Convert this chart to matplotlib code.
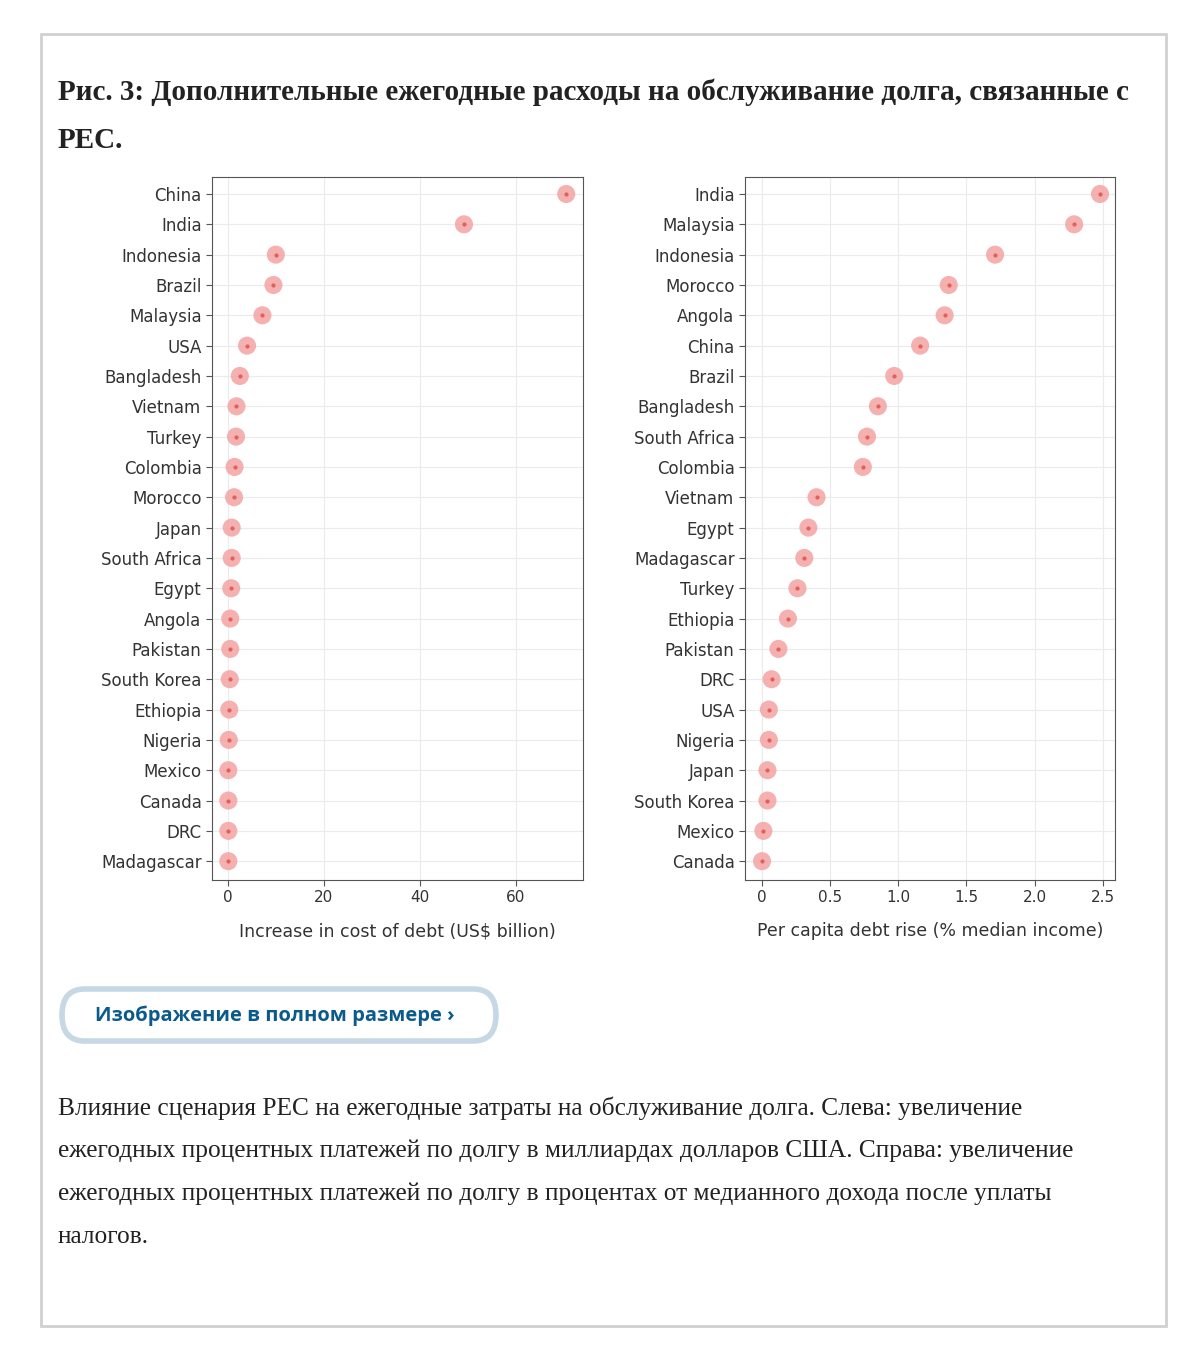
import matplotlib
matplotlib.use("Agg")
import matplotlib.pyplot as plt
from matplotlib.patches import FancyBboxPatch, Rectangle

left_countries = ["China","India","Indonesia","Brazil","Malaysia","USA","Bangladesh","Vietnam","Turkey","Colombia","Morocco","Japan","South Africa","Egypt","Angola","Pakistan","South Korea","Ethiopia","Nigeria","Mexico","Canada","DRC","Madagascar"]
left_values = [70.5,49.2,10.0,9.5,7.2,4.0,2.5,1.8,1.7,1.4,1.3,0.8,0.8,0.7,0.5,0.5,0.4,0.3,0.2,0.1,0.1,0.1,0.1]
right_countries = ["India","Malaysia","Indonesia","Morocco","Angola","China","Brazil","Bangladesh","South Africa","Colombia","Vietnam","Egypt","Madagascar","Turkey","Ethiopia","Pakistan","DRC","USA","Nigeria","Japan","South Korea","Mexico","Canada"]
right_values = [2.48,2.29,1.71,1.37,1.34,1.16,0.97,0.85,0.77,0.74,0.40,0.34,0.31,0.26,0.19,0.12,0.07,0.05,0.05,0.04,0.04,0.01,0.0]
left_ticks = [0,20,40,60]
right_ticks = [0,0.5,1.0,1.5,2.0,2.5]
right_ticklabels = ["0","0.5","1.0","1.5","2.0","2.5"]

W, H = 1194, 1368
fig = plt.figure(figsize=(W/100, H/100), dpi=100)
fig.patches.append(Rectangle((41/W, 1-1326/H), (1166-41)/W, (1326-34)/H, transform=fig.transFigure,
                             fill=False, edgecolor="#d0d0d0", linewidth=2))
serif = "Liberation Serif"
fig.text(58/W, 1-92/H, "Рис. 3: Дополнительные ежегодные расходы на обслуживание долга, связанные с",
         fontsize=21, fontweight="bold", family=serif, va="center", color="#222")
fig.text(58/W, 1-140/H, "PEC.", fontsize=21, fontweight="bold", family=serif, va="center", color="#222")

def panel(x0, x1, cats, vals, xlim, ticks, ticklabels, xlabel):
    ax = fig.add_axes([x0/W, 1-880/H, (x1-x0)/W, (880-177)/H])
    n = len(cats)
    y = list(range(n))
    ax.scatter(vals, y, s=170, color="#f4a3a3", alpha=0.85, edgecolors="none", zorder=3)
    ax.scatter(vals, y, s=4, color="#e06060", zorder=4)
    ax.set_yticks(y)
    ax.set_yticklabels(cats, fontsize=12, color="#333")
    ax.set_ylim(n-1+0.62, -0.56)
    ax.set_xlim(*xlim)
    ax.set_xticks(ticks)
    ax.set_xticklabels(ticklabels, fontsize=11, color="#333")
    ax.set_xlabel(xlabel, fontsize=12.5, color="#333", labelpad=12)
    ax.grid(True, color="#ebebeb", linewidth=0.8, zorder=0)
    ax.set_axisbelow(True)
    for s in ax.spines.values():
        s.set_color("#555"); s.set_linewidth(0.8)
    ax.tick_params(colors="#555", length=4, labelcolor="#333")
    return ax

panel(212, 583, left_countries, left_values, (-3.3, 74), left_ticks, [str(t) for t in left_ticks],
      "Increase in cost of debt (US$ billion)")
panel(745, 1115, right_countries, right_values, (-0.125, 2.59), right_ticks, right_ticklabels,
      "Per capita debt rise (% median income)")

fig.patches.append(FancyBboxPatch((62/W, 1-1041/H), (496-62)/W, (1041-989)/H,
                   boxstyle="round,pad=0,rounding_size=0.019", transform=fig.transFigure,
                   facecolor="white", edgecolor="#c5d8e3", linewidth=4))
fig.text(95/W, 1-1016/H, "Изображение в полном размере ›", fontsize=14.5, fontweight="bold",
         color="#0a5a8c", va="center", family="Open Sans")

cap = ["Влияние сценария PEC на ежегодные затраты на обслуживание долга. Слева: увеличение",
       "ежегодных процентных платежей по долгу в миллиардах долларов США. Справа: увеличение",
       "ежегодных процентных платежей по долгу в процентах от медианного дохода после уплаты",
       "налогов."]
for i, line in enumerate(cap):
    fig.text(58/W, 1-(1108+43*i)/H, line, fontsize=18.3, family=serif, va="center", color="#222")

fig.savefig("out.png", dpi=100)
